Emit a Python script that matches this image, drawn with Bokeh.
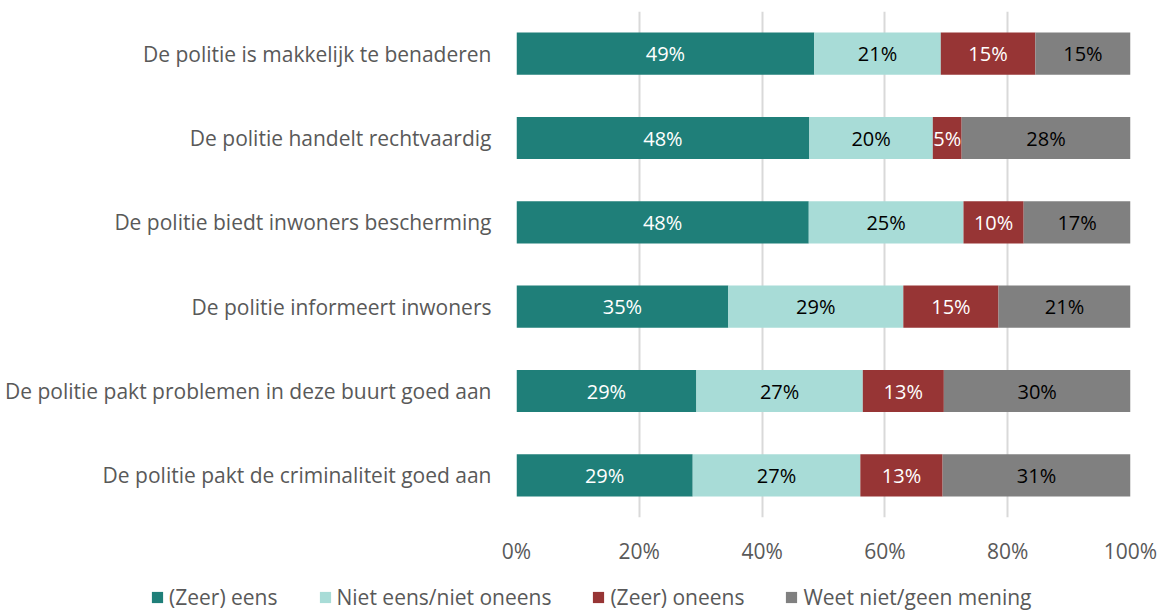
import numpy as np
from bokeh.plotting import figure
from bokeh.layouts import column
from bokeh.models import ColumnDataSource, FactorRange, Range1d, FixedTicker, Legend, LegendItem, CustomJSTickFormatter
from bokeh.core.properties import value
from bokeh.embed import file_html
from bokeh.resources import INLINE

categories = [
    "De politie is makkelijk te benaderen",
    "De politie handelt rechtvaardig",
    "De politie biedt inwoners bescherming",
    "De politie informeert inwoners",
    "De politie pakt problemen in deze buurt goed aan",
    "De politie pakt de criminaliteit goed aan",
]
series_names = ["(Zeer) eens", "Niet eens/niet oneens", "(Zeer) oneens", "Weet niet/geen mening"]
eens = [48.5, 47.7, 47.6, 34.5, 29.3, 28.7]
neutraal = [20.6, 20.1, 25.2, 28.5, 27.1, 27.3]
oneens = [15.4, 4.7, 9.8, 15.5, 13.2, 13.4]
weetniet = [15.5, 27.5, 17.4, 21.5, 30.4, 30.6]
labels_eens = ["49%", "48%", "48%", "35%", "29%", "29%"]
labels_neutraal = ["21%", "20%", "25%", "29%", "27%", "27%"]
labels_oneens = ["15%", "5%", "10%", "15%", "13%", "13%"]
labels_weetniet = ["15%", "28%", "17%", "21%", "30%", "31%"]
x_ticks = [0, 20, 40, 60, 80, 100]

colors = ["#1F7F79", "#A8DCD7", "#973535", "#808080"]
text_colors = ["#FFFFFF", "#000000", "#FFFFFF", "#000000"]
FONT = "Open Sans"

p = figure(frame_width=614, frame_height=506, output_backend="svg", toolbar_location=None,
           y_range=FactorRange(*reversed(categories), range_padding=0),
           x_range=Range1d(0, 100),
           min_border_left=516, min_border_right=32, min_border_top=11, min_border_bottom=58)
p.outline_line_color = None
p.background_fill_color = "white"

series = [eens, neutraal, oneens, weetniet]
labels = [labels_eens, labels_neutraal, labels_oneens, labels_weetniet]
left = np.zeros(len(categories))
for vals, lab, col, tcol in zip(series, labels, colors, text_colors):
    vals = np.array(vals)
    right = left + vals
    src = ColumnDataSource(dict(y=categories, left=left, right=right, mid=(left + right) / 2, lab=lab))
    p.hbar(y="y", left="left", right="right", height=0.5, source=src, fill_color=col, line_color=None)
    p.text(x="mid", y="y", text="lab", source=src, text_align="center", text_baseline="middle",
           text_color=tcol, text_font=value(FONT), text_font_size="20px")
    left = right

p.xaxis.ticker = FixedTicker(ticks=x_ticks)
p.xaxis.formatter = CustomJSTickFormatter(code="return tick + '%';")
p.xaxis.axis_line_color = None
p.xaxis.major_tick_line_color = None
p.xaxis.minor_tick_line_color = None
p.xaxis.major_label_standoff = 13
p.xaxis.major_label_text_font = FONT
p.xaxis.major_label_text_font_size = "21px"
p.xaxis.major_label_text_color = "#595959"

p.yaxis.axis_line_color = None
p.yaxis.major_tick_line_color = None
p.yaxis.major_label_standoff = 19
p.yaxis.major_label_text_font = FONT
p.yaxis.major_label_text_font_size = "21px"
p.yaxis.major_label_text_color = "#595959"

p.ygrid.grid_line_color = None
p.xgrid.ticker = FixedTicker(ticks=x_ticks)
p.xgrid.grid_line_color = "#D9D9D9"
p.xgrid.grid_line_width = 2

# legend strip
lg = figure(width=1162, height=37, output_backend="svg", toolbar_location=None,
            x_range=Range1d(0, 1), y_range=Range1d(0, 1),
            x_axis_location=None, y_axis_location=None,
            min_border=0, min_border_left=0, min_border_right=0, min_border_top=0, min_border_bottom=0)
lg.outline_line_color = None
lg.outline_line_alpha = 0
lg.border_fill_color = "white"
lg.background_fill_color = "white"
lg.xgrid.visible = False
lg.ygrid.visible = False
for fig in (p, lg):
    try:
        fig.frame_align = False
    except Exception:
        pass
items = []
for name, col in zip(series_names, colors):
    r = lg.hbar(y=[0.5], left=[0.5], right=[0.5], height=0.0, fill_color=col, line_color=None)
    items.append(LegendItem(label=name, renderers=[r]))
legend = Legend(items=items, orientation="horizontal", location=(150, 1),
                label_text_font=FONT, label_text_font_size="21px", label_text_color="#595959",
                glyph_width=14, glyph_height=14, label_standoff=5, spacing=40,
                label_height=20, border_line_color=None, background_fill_alpha=0,
                padding=0, margin=0)
lg.add_layout(legend, "center")

layout = column(p, lg, spacing=0)
open("out.html", "w").write(file_html(layout, INLINE))
